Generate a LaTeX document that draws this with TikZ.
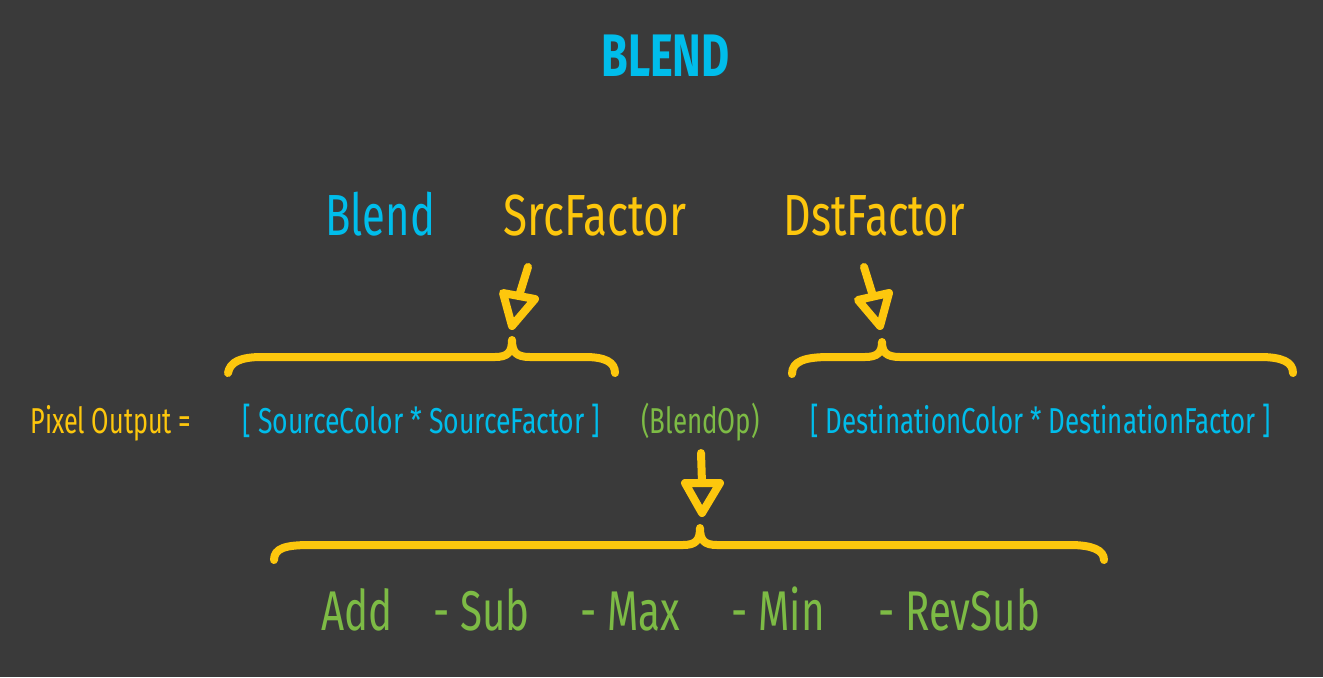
\documentclass[tikz,border=0pt]{standalone}
\usepackage{fontspec}
\setmainfont[FakeStretch=0.72]{Fira Sans}
\usepackage{tikz}
\definecolor{slate}{HTML}{3A3A3A}
\definecolor{sky}{HTML}{00BDEB}
\definecolor{gold}{HTML}{FDC70D}
\definecolor{leaf}{HTML}{7DBB45}
\tikzset{headline/.style={font=\fontsize{30}{30}\selectfont\bfseries,text=sky,anchor=base west,inner sep=0pt},
keyword/.style={font=\fontsize{29}{29}\selectfont,anchor=base west,inner sep=0pt},
formula/.style={font=\fontsize{18}{18}\selectfont,anchor=base west,inner sep=0pt},
opname/.style={font=\fontsize{28}{28}\selectfont,text=leaf,anchor=base west,inner sep=0pt},
bracepath/.style={draw=gold,line width=4pt,line cap=round,line join=round},
pointer/.style={draw=gold,line width=4pt,line cap=round},
pointhead/.style={draw=gold,line width=4pt,line join=round}}

\begin{document}
\begin{tikzpicture}[x=0.5pt,y=-0.5pt]
\fill[slate] (0,0) rectangle (1323,677);
\useasboundingbox (0,0) rectangle (1323,677);
\node[headline] (title) at (601,76) {BLEND};
\node[keyword,text=sky] (blend) at (325,235) {Blend};
\node[keyword,text=gold] (src) at (503,235) {\addfontfeature{FakeStretch=0.76}SrcFactor};
\node[keyword,text=gold] (dst) at (783,235) {\addfontfeature{FakeStretch=0.74}DstFactor};
\node[formula,text=gold] (pixel) at (30,433) {\addfontfeature{FakeStretch=0.7}Pixel Output =};
\node[formula,text=sky] (srcterm) at (242,433) {\addfontfeature{FakeStretch=0.74}[ SourceColor * SourceFactor ]};
\node[formula,text=leaf] (op) at (641,433) {(BlendOp)};
\node[formula,text=sky] (dstterm) at (810,433) {[ DestinationColor * DestinationFactor ]};
\node[opname] (add) at (321,630) {Add};
\node[opname] (sub) at (433,630) {- Sub};
\node[opname] (max) at (580,630) {- Max};
\node[opname] (min) at (731,630) {- Min};
\node[opname] (revsub) at (878,630) {- RevSub};
% braces
\draw[bracepath] (228,373) .. controls (230,362) and (240,357) .. (262,357) -- (495,357) .. controls (508,357) and (512,352) .. (512,340) .. controls (512,352) and (516,357) .. (530,357) -- (585,357) .. controls (605,357) and (615,362) .. (615,373);
\draw[bracepath] (792,374) .. controls (792,361) and (805,357) .. (830,357) -- (865,357) .. controls (878,357) and (882,352) .. (882,342) .. controls (882,352) and (886,357) .. (900,357) -- (1260,357) .. controls (1282,357) and (1293,362) .. (1293,373);
\draw[bracepath] (274,560) .. controls (274,548) and (286,545) .. (310,545) -- (683,545) .. controls (696,545) and (700,540) .. (700,528) .. controls (700,540) and (704,545) .. (717,545) -- (1070,545) .. controls (1092,545) and (1104,550) .. (1104,560);
% arrows
\coordinate (srctail) at (528,267);\coordinate (srchead) at (519,296);
\coordinate (dsttail) at (864,267);\coordinate (dsthead) at (873,296);
\coordinate (optail) at (701,453);\coordinate (ophead) at (702,483);
\draw[pointer] (srctail) -- (srchead);
\draw[pointhead] (503,293) -- (535,299) -- (512,326) -- cycle;
\draw[pointer] (dsttail) -- (dsthead);
\draw[pointhead] (858,300) -- (889,293) -- (880,326) -- cycle;
\draw[pointer] (optail) -- (ophead);
\draw[pointhead] (685,483) -- (720,483) -- (702,513) -- cycle;
\end{tikzpicture}
\end{document}
